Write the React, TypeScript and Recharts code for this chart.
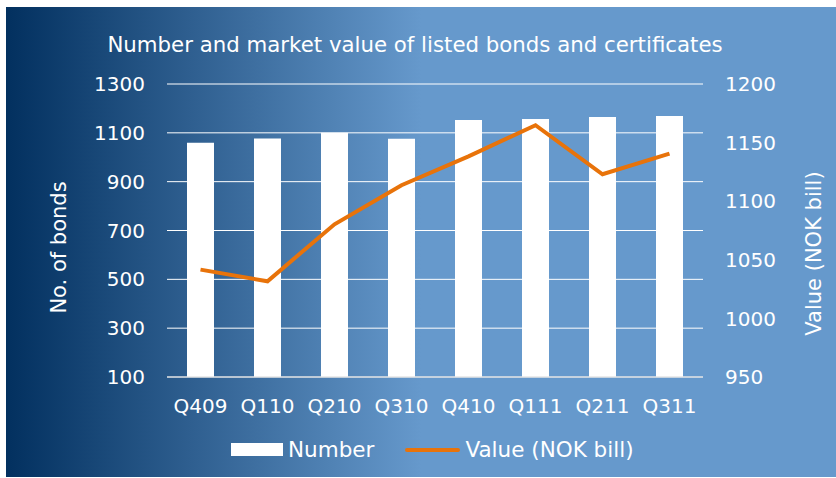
import { Bar, CartesianGrid, ComposedChart, Label, Legend, Line, XAxis, YAxis } from 'recharts'

const quarters = ['Q409', 'Q110', 'Q210', 'Q310', 'Q410', 'Q111', 'Q211', 'Q311']
const numberOfBonds = [1059, 1077, 1100, 1076, 1153, 1157, 1165, 1169]
const valueNokBill = [1041.6, 1031.7, 1080.3, 1113.6, 1138.3, 1164.8, 1123, 1140.6]
const bondTicks = [100, 300, 500, 700, 900, 1100, 1300]
const valueTicks = [950, 1000, 1050, 1100, 1150, 1200]

const data = quarters.map((q, i) => ({
    quarter: q,
    number: numberOfBonds[i],
    value: valueNokBill[i],
}))

const FONT = '"DejaVu Sans", Verdana, sans-serif'
const ORANGE = '#E8730A'

const tickStyle = { fill: '#ffffff', fontSize: 20, fontFamily: FONT }

const LegendBox = ({ payload }: any) => {
    const items = payload || []
    return (
        <div style={{ display: 'flex', alignItems: 'center', fontFamily: FONT, fontSize: 21.5, color: '#fff', paddingLeft: 231 }}>
            {items.map((item: any) => (
                <div key={item.value} style={{ display: 'flex', alignItems: 'center', marginRight: 31 }}>
                    {item.type === 'line' ? (
                        <span style={{ display: 'inline-block', width: 55, height: 4, background: ORANGE, borderRadius: 2 }} />
                    ) : (
                        <span style={{ display: 'inline-block', width: 52, height: 13, background: '#fff' }} />
                    )}
                    <span style={{ marginLeft: 5 }}>{item.value}</span>
                </div>
            ))}
        </div>
    )
}

// rotated axis title, baseline at x, centred a little below the plot middle like the original
const axisTitle = (text: string, x: number, shift: number) => (props: any) => {
    const vb = props.viewBox
    const cy = vb.y + vb.height / 2 + shift
    return (
        <text x={x} y={cy} transform={`rotate(-90, ${x}, ${cy})`} textAnchor="middle"
            fill="#fff" fontSize={21} fontFamily={FONT}>
            {text}
        </text>
    )
}

export default function App() {
    return (
        <div style={{ position: 'absolute', left: 0, top: 0, width: 836, height: 478, background: '#fff' }}>
            <div style={{
                position: 'absolute', left: 6, top: 7, width: 830, height: 470,
                background: 'linear-gradient(to right, #02305F 0%, #6699CC 50%, #6699CC 100%)',
            }} />
            <div style={{
                position: 'absolute', left: 0, top: 30, width: 830, textAlign: 'center',
                color: '#fff', fontFamily: FONT, fontSize: 21.3, lineHeight: '30px',
            }}>
                Number and market value of listed bonds and certificates
            </div>
            <div style={{ position: 'absolute', left: 0, top: 0 }}>
                <ComposedChart width={836} height={478} data={data} margin={{ top: 84, right: 0, bottom: 0, left: 0 }}>
                    <CartesianGrid yAxisId="left" vertical={false} stroke="#ffffff" strokeWidth={1} />
                    <XAxis dataKey="quarter" height={101} tick={tickStyle} tickLine={false} tickSize={0} tickMargin={22}
                        axisLine={{ stroke: '#d9d9d9' }} interval={0} />
                    <YAxis yAxisId="left" width={167} domain={[100, 1300]} ticks={bondTicks} tick={tickStyle}
                        tickLine={false} tickSize={0} tickMargin={22} axisLine={false}>
                        <Label content={axisTitle('No. of bonds', 66, 17)} />
                    </YAxis>
                    <YAxis yAxisId="right" orientation="right" width={133} domain={[950, 1200]} ticks={valueTicks}
                        tick={{ ...tickStyle, textAnchor: 'start' }} tickLine={false} tickSize={0} tickMargin={22} axisLine={false}>
                        <Label content={axisTitle('Value (NOK bill)', 821, 23)} />
                    </YAxis>
                    <Bar yAxisId="left" dataKey="number" name="Number" fill="#ffffff" barSize={27} isAnimationActive={false} />
                    <Line yAxisId="right" dataKey="value" name="Value (NOK bill)" stroke={ORANGE} strokeWidth={4}
                        dot={false} type="linear" isAnimationActive={false} legendType="line" />
                    <Legend verticalAlign="middle" layout="horizontal" content={<LegendBox />}
                        wrapperStyle={{ left: 0, top: 437, width: 836, height: 28 }} />
                </ComposedChart>
            </div>
        </div>
    )
}
